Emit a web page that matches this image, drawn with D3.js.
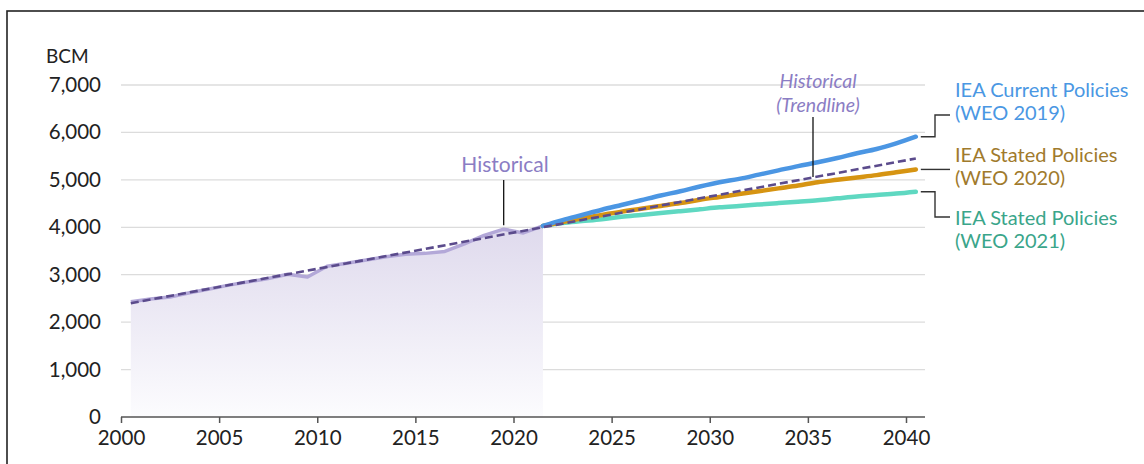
<!DOCTYPE html>
<html>
<head>
<meta charset="utf-8">
<script src="https://cdn.jsdelivr.net/npm/d3@7"></script>
<style>
  body { margin: 0; background: #fff; }
  svg { display: block; font-family: Lato, "Noto Sans", sans-serif; }
</style>
</head>
<body>
<svg id="chart" width="1144" height="464"></svg>
<script>
// historical gas demand (BCM)
const histYears = [2000, 2001, 2002, 2003, 2004, 2005, 2006, 2007, 2008, 2009, 2010,
    2011, 2012, 2013, 2014, 2015, 2016, 2017, 2018, 2019, 2020, 2021];
const histValues = [2430, 2490, 2530, 2620, 2700, 2780, 2850, 2920, 3010, 2950, 3180,
    3240, 3310, 3380, 3430, 3450, 3490, 3650, 3830, 3960, 3880, 4030];

// linear trendline end points
const trendYears = [2000, 2040];
const trendValues = [2400, 5450];

// projections
const projYears = [2021, 2022, 2023, 2024, 2025, 2026, 2027, 2028, 2029, 2030,
    2031, 2032, 2033, 2034, 2035, 2036, 2037, 2038, 2039, 2040];
const cps2019 = [4030, 4150, 4260, 4370, 4470, 4570, 4670, 4760, 4860, 4950,
    5020, 5110, 5200, 5290, 5370, 5460, 5560, 5650, 5770, 5910];
const steps2020 = [4030, 4110, 4190, 4260, 4330, 4390, 4450, 4510, 4580, 4640,
    4700, 4760, 4820, 4880, 4950, 5000, 5050, 5100, 5160, 5220];
const steps2021 = [4030, 4090, 4130, 4170, 4220, 4260, 4300, 4340, 4380, 4420,
    4450, 4480, 4510, 4540, 4570, 4610, 4650, 4680, 4710, 4750];

const seriesNames = ["IEA Current Policies", "IEA Stated Policies", "IEA Stated Policies"];
const seriesSubs = ["(WEO 2019)", "(WEO 2020)", "(WEO 2021)"];

const xTicks = [2000, 2005, 2010, 2015, 2020, 2025, 2030, 2035, 2040];
const yTicks = [0, 1000, 2000, 3000, 4000, 5000, 6000, 7000];

const svg = d3.select("#chart");

// frame
svg.append("rect")
    .attr("x", 7).attr("y", 11)
    .attr("width", 1200).attr("height", 500)
    .attr("fill", "none").attr("stroke", "#222").attr("stroke-width", 1.6);

const x = d3.scaleLinear().domain([2000, 2040]).range([121, 906]);
const y = d3.scaleLinear().domain([0, 7000]).range([417, 85]);
// points sit in the middle of each year slot
const px = yr => x(yr + 0.5);

// gridlines
svg.append("g")
    .selectAll("line")
    .data(yTicks.filter(d => d > 0))
    .join("line")
    .attr("x1", 121).attr("x2", 925)
    .attr("y1", d => y(d)).attr("y2", d => y(d))
    .attr("stroke", "#dcdcdc").attr("stroke-width", 1.3);

// y labels
svg.append("g")
    .selectAll("text")
    .data(yTicks)
    .join("text")
    .attr("x", 101)
    .attr("y", d => y(d) + 7)
    .attr("text-anchor", "end")
    .attr("font-size", 20.5)
    .attr("fill", "#222")
    .text(d => d3.format(",")(d));

svg.append("text")
    .attr("x", 46).attr("y", 63)
    .attr("font-size", 19).attr("fill", "#222")
    .text("BCM");

// historical area with gradient
const defs = svg.append("defs");
const grad = defs.append("linearGradient")
    .attr("id", "histFill")
    .attr("gradientUnits", "userSpaceOnUse")
    .attr("x1", 0).attr("x2", 0)
    .attr("y1", y(4000)).attr("y2", y(0));
grad.append("stop").attr("offset", "0%").attr("stop-color", "#dfdaed");
grad.append("stop").attr("offset", "100%").attr("stop-color", "#fcfcfe");

const hist = histYears.map((yr, i) => ({ yr, v: histValues[i] }));

svg.append("path")
    .datum(hist)
    .attr("fill", "url(#histFill)")
    .attr("d", d3.area().x(d => px(d.yr)).y0(y(0)).y1(d => y(d.v)));

svg.append("path")
    .datum(hist)
    .attr("fill", "none")
    .attr("stroke", "#b3a8d8")
    .attr("stroke-width", 3.5)
    .attr("stroke-linejoin", "round")
    .attr("d", d3.line().x(d => px(d.yr)).y(d => y(d.v)));

// projections
const projColors = ["#4b96e3", "#d69412", "#5fd8c1"];
const projSeries = [cps2019, steps2020, steps2021];
const line = d3.line().x(d => px(d.yr)).y(d => y(d.v)).curve(d3.curveMonotoneX);

projSeries.slice().reverse().forEach((vals, k) => {
    const i = projSeries.length - 1 - k;
    svg.append("path")
        .datum(projYears.map((yr, j) => ({ yr, v: vals[j] })))
        .attr("fill", "none")
        .attr("stroke", projColors[i])
        .attr("stroke-width", 4.5)
        .attr("stroke-linecap", "round")
        .attr("d", line);
});

// trendline
svg.append("path")
    .datum(trendYears.map((yr, i) => ({ yr, v: trendValues[i] })))
    .attr("fill", "none")
    .attr("stroke", "#5b4b8c")
    .attr("stroke-width", 2.6)
    .attr("stroke-dasharray", "8,4")
    .attr("d", d3.line().x(d => px(d.yr)).y(d => y(d.v)));

// x axis
const xAxis = svg.append("g")
    .attr("transform", `translate(0,${y(0)})`)
    .call(d3.axisBottom(x).tickValues(xTicks).tickFormat(d3.format("d")).tickSize(6).tickSizeOuter(0));
xAxis.select(".domain").attr("d", `M${x(2000)},0H925`).attr("stroke", "#555").attr("stroke-width", 1.5);
xAxis.selectAll(".tick line").attr("stroke", "#555").attr("stroke-width", 1.5);
xAxis.selectAll(".tick text")
    .attr("font-size", 20.5).attr("fill", "#222")
    .attr("font-family", "Lato, 'Noto Sans', sans-serif")
    .attr("dy", "0.95em").attr("y", 9);

// annotation: historical
const annCol = "#8b7dc4";
svg.append("text")
    .attr("x", 505).attr("y", 172)
    .attr("text-anchor", "middle")
    .attr("font-size", 21).attr("fill", annCol)
    .text("Historical");
svg.append("line")
    .attr("x1", px(2019)).attr("x2", px(2019))
    .attr("y1", 180).attr("y2", y(3960) - 4)
    .attr("stroke", "#111").attr("stroke-width", 1.3);

// annotation: trendline
const tl = svg.append("g")
    .attr("font-size", 19.5).attr("font-style", "italic").attr("fill", annCol)
    .attr("text-anchor", "middle");
tl.append("text").attr("x", 818).attr("y", 88).text("Historical");
tl.append("text").attr("x", 818).attr("y", 112).text("(Trendline)");
svg.append("line")
    .attr("x1", 813).attr("x2", 813)
    .attr("y1", 117).attr("y2", 177)
    .attr("stroke", "#111").attr("stroke-width", 1.3);

// series labels with leaders
const labelCols = ["#4a97e3", "#a07a2c", "#3aa58a"];
const labelY = [97, 162, 225];
const ends = projSeries.map(vals => y(vals[vals.length - 1]));
const leaderY = [labelY[0] + 18, ends[1], labelY[2] - 8];

projSeries.forEach((vals, i) => {
    const x0 = px(2040) + 5;
    svg.append("path")
        .attr("fill", "none")
        .attr("stroke", "#333")
        .attr("stroke-width", 1.4)
        .attr("d", `M${x0},${ends[i]}H935V${leaderY[i]}H950`);
    const t = svg.append("text")
        .attr("font-size", 20).attr("fill", labelCols[i]);
    t.append("tspan").attr("x", 955).attr("y", labelY[i]).text(seriesNames[i]);
    t.append("tspan").attr("x", 955).attr("y", labelY[i] + 23).text(seriesSubs[i]);
});
</script>
</body>
</html>
